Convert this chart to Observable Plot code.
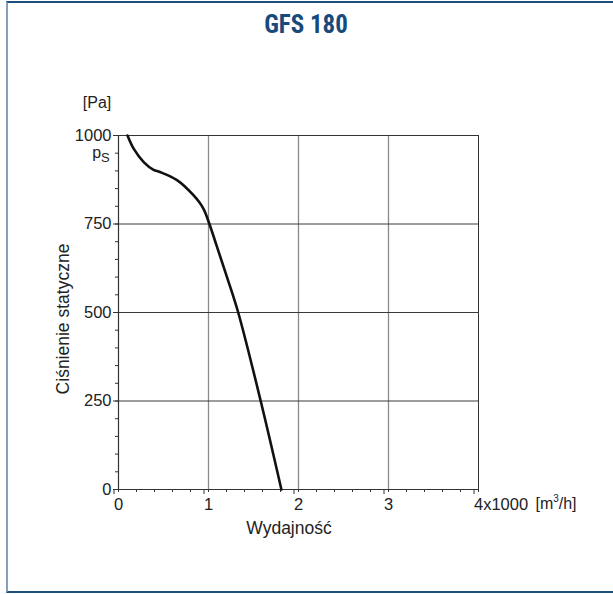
<!DOCTYPE html>
<html>
<head>
<meta charset="utf-8">
<script src="https://cdn.jsdelivr.net/npm/d3@7"></script>
<script src="https://cdn.jsdelivr.net/npm/@observablehq/plot@0.6"></script>
<style>
  html, body { margin: 0; padding: 0; background: #fff; }
  #wrap { position: relative; width: 613px; height: 594px; overflow: hidden; font-family: "Liberation Sans", Arial, sans-serif; color: #222; }
  #frame { position: absolute; left: 6px; top: 1px; width: 620px; height: 592px; border-top: 2px solid #1d4f7c; border-left: 2px solid #86a0b9; border-bottom: 2px solid #1d4f7c; box-sizing: border-box; }
  .lbl { position: absolute; transform: translate(-50%, -50%); white-space: nowrap; }
  #title { font-family: "Liberation Sans Narrow", "Roboto Condensed", "Liberation Sans", sans-serif; font-weight: bold; font-size: 25px; color: #18497c; }
  #chart { position: absolute; left: 0; top: 0; }
</style>
</head>
<body>
<div id="wrap">
  <div id="frame"></div>
  <div id="chart"></div>
  <div class="lbl" id="title" style="left:306px; top:24px;">GFS 180</div>
  <div class="lbl" style="left:97px; top:103px; font-size:16px;">[Pa]</div>
  <div class="lbl" style="left:101px; top:154px; font-size:16px;">p<sub style="font-size:13px; vertical-align:-4px;">S</sub></div>
  <div class="lbl" style="left:556px; top:503px; font-size:16px;">[m<sup style="font-size:10px; vertical-align:7px;">3</sup>/h]</div>
  <div class="lbl" style="left:289px; top:528px; font-size:17.5px;">Wydajność</div>
  <div class="lbl" style="left:63px; top:319px; font-size:17.5px; transform: translate(-50%, -50%) rotate(-90deg);">Ciśnienie statyczne</div>
</div>
<script>
// Curve: airflow (x1000 m3/h) vs static pressure (Pa)
const flow     = [0.10, 0.17, 0.28, 0.39, 0.46, 0.65, 0.83, 0.94, 1.01, 1.09, 1.20, 1.33, 1.58, 1.81];
const pressure = [1000, 962,  925,  903,  897,  874,  832,  795,  750,  689,  604,  500,  250,  0];

const xTicks = [0, 1, 2, 3, 4];
const xTickLabels = ["0", "1", "2", "3", "4x1000"];
const yTicks = [0, 250, 500, 750, 1000];
const xGrid = [1, 2, 3];
const yGrid = [250, 500, 750];
const xMinor = d3.range(0, 4.001, 0.2).map(v => +v.toFixed(1));
const yMinor = d3.range(0, 1001, 50);

const data = flow.map((f, i) => ({flow: f, pressure: pressure[i]}));

const plot = Plot.plot({
  width: 613,
  height: 594,
  marginLeft: 118,
  marginRight: 135,
  marginTop: 135,
  marginBottom: 105,
  style: {fontFamily: '"Liberation Sans", Arial, sans-serif', fontSize: "16.5px", color: "#222", background: "transparent"},
  x: {domain: [0, 4], label: null},
  y: {domain: [0, 1000], label: null},
  marks: [
    Plot.ruleX(xGrid, {stroke: "#8a8a8a", strokeWidth: 1.3}),
    Plot.ruleY(yGrid, {stroke: "#3a3a3a", strokeWidth: 1}),
    Plot.ruleY([1000], {stroke: "#333", strokeWidth: 1}),
    Plot.ruleX([4], {stroke: "#333", strokeWidth: 1}),
    Plot.axisX({ticks: xMinor, tickSize: 3, label: null, text: null, stroke: "#333"}),
    Plot.axisY({ticks: yMinor, tickSize: 3, label: null, text: null, stroke: "#333"}),
    Plot.axisX({ticks: xTicks, tickSize: 5, tickPadding: 4, label: null, stroke: "#333",
      tickFormat: d => xTickLabels[xTicks.indexOf(d)], textAnchor: "start", dx: -4.5}),
    Plot.axisY({ticks: yTicks, tickSize: 5, tickPadding: 2, label: null, stroke: "#333",
      tickFormat: d => String(d)}),
    Plot.ruleX([0], {stroke: "#333", strokeWidth: 1.2}),
    Plot.ruleY([0], {stroke: "#333", strokeWidth: 1.2}),
    Plot.line(data, {x: "flow", y: "pressure", curve: "catmull-rom", stroke: "#111", strokeWidth: 2.6})
  ]
});
document.getElementById("chart").appendChild(plot);
</script>
</body>
</html>
